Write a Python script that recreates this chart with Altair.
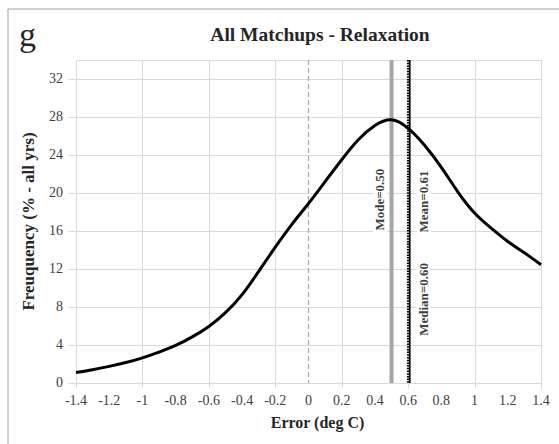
import altair as alt
import pandas as pd

# ---- data ----
err = [-1.4, -1.3, -1.2, -1.1, -1.0, -0.9, -0.8, -0.7, -0.6, -0.5, -0.4, -0.3, -0.2, -0.1,
       0.0, 0.1, 0.2, 0.3, 0.4, 0.5, 0.6, 0.7, 0.8, 0.9, 1.0, 1.1, 1.2, 1.3, 1.4]
freq = [1.1, 1.4, 1.75, 2.15, 2.65, 3.25, 3.95, 4.85, 5.95, 7.4, 9.3, 11.75, 14.3, 16.7,
        18.9, 21.2, 23.5, 25.6, 27.1, 27.7, 26.8, 25.0, 22.7, 20.1, 17.9, 16.3, 14.9, 13.7, 12.45]

x_ticks = [-1.4, -1.2, -1.0, -0.8, -0.6, -0.4, -0.2, 0.0, 0.2, 0.4, 0.6, 0.8, 1.0, 1.2, 1.4]
y_ticks = [0, 4, 8, 12, 16, 20, 24, 28, 32]

stat_names = ["Mode", "Median", "Mean"]
stat_values = [0.50, 0.60, 0.61]
label_texts = ["Mode=0.50", "Median=0.60", "Mean=0.61"]
label_x = [0.431, 0.693, 0.696]
label_y = [19.3, 8.8, 19.1]
label_half = [3.6, 4.2, 3.6]

title_text = "All Matchups - Relaxation"
panel_letter = "g"
x_title = "Error (deg C)"
y_title = "Freuquency (% - all yrs)"

W, H = 465, 323
SERIF = "Liberation Serif"
LABEL_COLOR = "#404040"

curve_df = pd.DataFrame({"err": err, "freq": freq})
lab_df = pd.DataFrame({
    "text": label_texts, "x": label_x, "y": label_y,
    "x0": [v - 0.042 for v in label_x], "x1": [v + 0.042 for v in label_x],
    "y0": [a - b for a, b in zip(label_y, label_half)],
    "y1": [a + b for a, b in zip(label_y, label_half)],
})
xt_df = pd.DataFrame({"v": x_ticks, "lab": [f"{v:g}" for v in x_ticks]})
yt_df = pd.DataFrame({"v": y_ticks, "lab": [f"{v:g}" for v in y_ticks]})

xs = alt.Scale(domain=[-1.4, 1.4], nice=False, zero=False)
ys = alt.Scale(domain=[0, 34], nice=False)

xaxis = alt.Axis(values=x_ticks, title=x_title, labels=False, titleFontSize=16,
                 tickSize=5, titleX=241, titleY=39)
yaxis = alt.Axis(values=y_ticks, title=y_title, labels=False, tickSize=8, titleFontSize=17,
                 titleX=-48, titleY=161, titleAngle=270)

base = alt.Chart(curve_df)

grid_layer = base.mark_line(opacity=0).encode(
    x=alt.X("err:Q", scale=xs, axis=xaxis),
    y=alt.Y("freq:Q", scale=ys, axis=yaxis),
)

xt_labels = alt.Chart(xt_df).mark_text(font=SERIF, fontSize=14, color=LABEL_COLOR,
                                       align="center", baseline="middle").encode(
    x=alt.X("v:Q", scale=xs), y=alt.value(H + 18), text="lab:N")
yt_labels = alt.Chart(yt_df).mark_text(font=SERIF, fontSize=14, color=LABEL_COLOR,
                                       align="right", baseline="middle").encode(
    y=alt.Y("v:Q", scale=ys), x=alt.value(-13), text="lab:N")

zero_df = pd.DataFrame({"v": [0.0]})
zero_line = alt.Chart(zero_df).mark_rule(color="#a6a6a6", strokeWidth=1.2, strokeDash=[5, 3]).encode(
    x=alt.X("v:Q", scale=xs))

stat_df = pd.DataFrame({"name": stat_names, "v": stat_values})
mode_line = alt.Chart(stat_df).transform_filter("datum.name == 'Mode'").mark_rule(
    color="#a6a6a6", strokeWidth=4).encode(x=alt.X("v:Q", scale=xs))
median_line = alt.Chart(stat_df).transform_filter("datum.name == 'Median'").mark_rule(
    color="#000000", strokeWidth=2.5, strokeDash=[1.5, 1.2]).encode(x=alt.X("v:Q", scale=xs))
mean_line = alt.Chart(stat_df).transform_filter("datum.name == 'Mean'").mark_rule(
    color="#000000", strokeWidth=1.6).encode(x=alt.X("v:Q", scale=xs))

lab_bg = alt.Chart(lab_df).mark_rect(color="white").encode(
    x=alt.X("x0:Q", scale=xs), x2="x1:Q",
    y=alt.Y("y0:Q", scale=ys), y2="y1:Q")
lab_txt = alt.Chart(lab_df).mark_text(font=SERIF, fontSize=13, fontWeight="bold",
                                      color=LABEL_COLOR, angle=270, align="center",
                                      baseline="middle").encode(
    x=alt.X("x:Q", scale=xs), y=alt.Y("y:Q", scale=ys), text="text:N")

curve = base.mark_line(color="black", strokeWidth=3, interpolate="natural").encode(
    x=alt.X("err:Q", scale=xs), y=alt.Y("freq:Q", scale=ys))

deco_df = pd.DataFrame({"t": [title_text]})
title_mark = alt.Chart(deco_df).mark_text(font=SERIF, fontSize=19.5, fontWeight="bold",
                                          color="#262626", align="center",
                                          baseline="alphabetic").encode(
    x=alt.value(244), y=alt.value(-19), text="t:N")
letter_df = pd.DataFrame({"t": [panel_letter]})
letter_mark = alt.Chart(letter_df).mark_text(font=SERIF, fontSize=34, color="#262626",
                                             align="left", baseline="alphabetic").encode(
    x=alt.value(-57), y=alt.value(-14), text="t:N")
border = alt.Chart(letter_df).mark_rect(fill=None, stroke="#a0a0a0", strokeWidth=1).encode(
    x=alt.value(-68), x2=alt.value(W + 40), y=alt.value(-51), y2=alt.value(H + 80))

chart = alt.layer(
    grid_layer, zero_line, mode_line, median_line, mean_line, lab_bg, lab_txt, curve,
    xt_labels, yt_labels, title_mark, letter_mark, border
).properties(
    width=W, height=H,
    autosize=alt.AutoSizeParams(type="none"),
    padding={"left": 76, "top": 60, "right": 18, "bottom": 61},
    background="white",
).configure_view(
    stroke="#d9d9d9", strokeWidth=1
).configure_axis(
    grid=True, gridColor="#d9d9d9", domain=False, tickColor="#d9d9d9",
    titleFont=SERIF, titleFontWeight="bold", titleColor="#262626",
    titleBaseline="middle", titleAlign="center",
)

chart.save("out.html", embed_options={"renderer": "svg", "actions": False})
